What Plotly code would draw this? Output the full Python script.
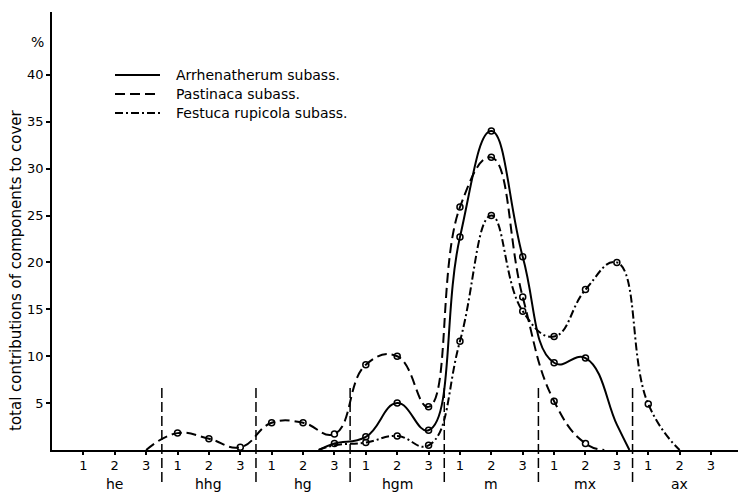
import plotly.graph_objects as go

# ---------------- data ----------------
groups = ["he", "hhg", "hg", "hgm", "m", "mx", "ax"]
sub_labels = ["1", "2", "3"]
tick_pos = list(range(1, 22))
tick_text = sub_labels * len(groups)
group_centers = [2, 5, 8, 11, 14, 17, 20]
separators = [3.5, 6.5, 9.5, 12.5, 15.5, 18.5]

# Arrhenatherum subass. (solid)
arr_x = [8.5, 9, 10, 11, 12, 13, 14, 15, 16, 17, 18, 18.4]
arr_y = [0, 0.7, 1.4, 5.0, 2.1, 22.7, 34.0, 20.6, 9.3, 9.8, 2.7, 0]
arr_m = [0, 1, 1, 1, 1, 1, 1, 1, 1, 1, 0, 0]

# Pastinaca subass. (dashed)
pas_x = [3, 4, 5, 6, 7, 8, 9, 10, 11, 12, 13, 14, 15, 16, 17, 17.6]
pas_y = [0, 1.8, 1.2, 0.3, 2.9, 2.9, 1.7, 9.1, 10.0, 4.6, 25.9, 31.2, 16.3, 5.2, 0.7, 0]
pas_m = [0, 1, 1, 1, 1, 1, 1, 1, 1, 1, 1, 1, 1, 1, 1, 0]

# Festuca rupicola subass. (dash-dot)
fes_x = [8.5, 9, 10, 11, 12, 13, 14, 15, 16, 17, 18, 19, 20]
fes_y = [0, 0.5, 0.8, 1.5, 0.5, 11.6, 25.0, 14.8, 12.1, 17.1, 20.0, 4.9, 0]
fes_m = [0, 0, 1, 1, 1, 1, 1, 1, 1, 1, 1, 1, 0]

series = [
    ("Arrhenatherum subass.", arr_x, arr_y, arr_m, "solid"),
    ("Pastinaca subass.", pas_x, pas_y, pas_m, "10px,5px"),
    ("Festuca rupicola subass.", fes_x, fes_y, fes_m, "8px,3px,2px,3px"),
]

FONT = "DejaVu Sans"
W, H = 738, 494
ML, MR, MT, MB = 52, 0, 12, 44
PW, PH = W - ML - MR, H - MT - MB

def px(xp):
    return (xp - ML) / PW

def py(yp):
    return (H - MB - yp) / PH

fig = go.Figure()
for name, xs, ys, ms, dash in series:
    fig.add_trace(go.Scatter(
        x=xs, y=ys, mode="lines", name=name,
        line=dict(color="black", width=2, dash=dash, shape="spline", smoothing=1.3),
        showlegend=False, hoverinfo="skip"))
    fig.add_trace(go.Scatter(
        x=[x for x, m in zip(xs, ms) if m], y=[y for y, m in zip(ys, ms) if m],
        mode="markers", showlegend=False,
        marker=dict(symbol="circle-open", size=6, color="black", line=dict(width=1.5))))

shapes = []
for s in separators:
    shapes.append(dict(type="line", xref="x", yref="paper", x0=s, x1=s,
                       y0=py(388), y1=py(482),
                       line=dict(color="black", width=1.5, dash="10px,4px")))

annotations = []
# custom legend
for i, (name, xs, ys, ms, dash) in enumerate(series):
    yy = 75 + 19 * i
    shapes.append(dict(type="line", xref="paper", yref="paper",
                       x0=px(115), x1=px(160), y0=py(yy), y1=py(yy),
                       line=dict(color="black", width=2, dash=dash)))
    annotations.append(dict(text=name, xref="paper", yref="paper", x=px(174), y=py(yy),
                            xanchor="left", yanchor="middle", showarrow=False,
                            font=dict(family=FONT, size=14, color="black")))

for g, c in zip(groups, group_centers):
    annotations.append(dict(text=g, xref="x", yref="paper", x=c, y=py(484),
                            xanchor="center", yanchor="middle", showarrow=False,
                            font=dict(family=FONT, size=14, color="black")))

annotations.append(dict(text="%", xref="paper", yref="paper", x=px(37), y=py(42),
                        xanchor="center", yanchor="middle", showarrow=False,
                        font=dict(family=FONT, size=14, color="black")))
annotations.append(dict(text="total contributions of components to cover",
                        xref="paper", yref="paper", x=px(16), y=py(270),
                        xanchor="center", yanchor="middle", textangle=-90, showarrow=False,
                        font=dict(family=FONT, size=15, color="black")))

fig.update_layout(
    width=W, height=H, margin=dict(l=ML, r=MR, t=MT, b=MB),
    paper_bgcolor="white", plot_bgcolor="white",
    shapes=shapes, annotations=annotations, showlegend=False,
    font=dict(family=FONT, size=13, color="black"),
    xaxis=dict(range=[0, 21.86], tickvals=tick_pos, ticktext=tick_text,
               showline=True, linecolor="black", linewidth=1.5, ticks="outside",
               ticklen=3, tickwidth=1.5, tickcolor="black", showgrid=False, zeroline=False,
               tickfont=dict(family=FONT, size=13)),
    yaxis=dict(range=[0, 46.7], tickvals=[5, 10, 15, 20, 25, 30, 35, 40],
               showline=True, linecolor="black", linewidth=1.5, ticks="outside",
               ticklen=4, tickwidth=1.5, tickcolor="black", showgrid=False, zeroline=False,
               tickfont=dict(family=FONT, size=13)),
)

fig.write_html("out.html")
